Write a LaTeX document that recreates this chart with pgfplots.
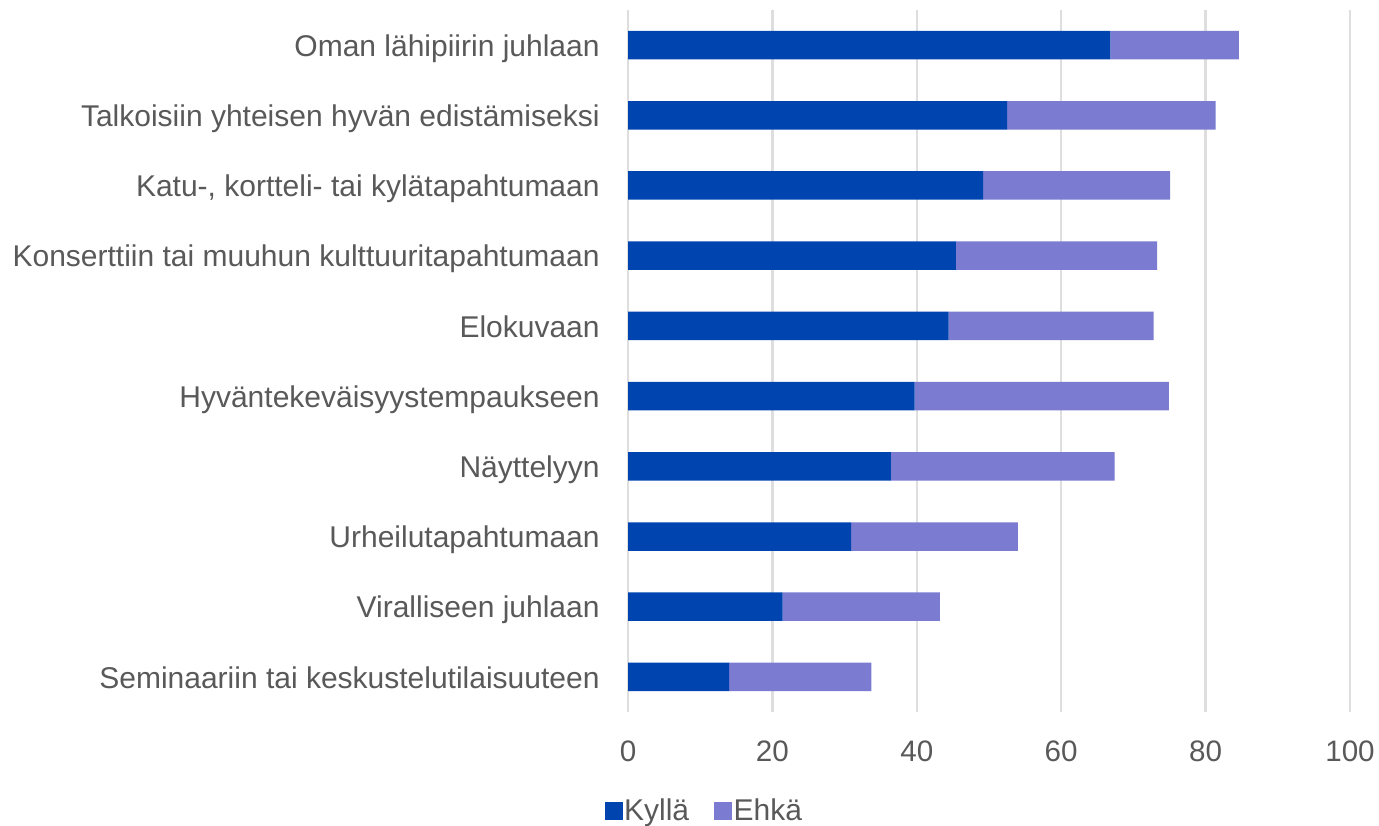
\documentclass[border=0pt]{standalone}
\usepackage{pgfplots}
\pgfplotsset{compat=1.18}
\usepackage{fontspec}
\setmainfont{Liberation Sans}
\definecolor{kylla}{RGB}{0,68,176}
\definecolor{ehka}{RGB}{122,123,209}
\definecolor{txt}{RGB}{89,89,89}
\definecolor{gridc}{RGB}{222,222,222}
\begin{document}
\begin{tikzpicture}
\begin{axis}[
  at={(314pt,56.5pt)}, anchor=south west,
  scale only axis, width=361pt, height=351pt,
  xbar stacked, bar width=14.25pt,
  xmin=0, xmax=100, ymin=-0.5, ymax=9.5,
  axis line style={draw=none},
  tick style={draw=none},
  xmajorgrids, grid style={gridc, line width=1.2pt},
  xtick={0,20,40,60,80,100},
  ytick={0,...,9},
  yticklabels={Seminaariin tai keskustelutilaisuuteen, Viralliseen juhlaan, Urheilutapahtumaan, Näyttelyyn, Hyväntekeväisyystempaukseen, Elokuvaan, Konserttiin tai muuhun kulttuuritapahtumaan, {Katu-, kortteli- tai kylätapahtumaan}, Talkoisiin yhteisen hyvän edistämiseksi, Oman lähipiirin juhlaan},
  major tick length=0pt,
  /pgf/number format/assume math mode=true,
  yticklabel style={font=\fontsize{15pt}{18pt}\selectfont, text=txt, anchor=base east, inner sep=0pt, xshift=-14pt, yshift=-5.6pt},
  xticklabel style={font=\fontsize{14.8pt}{17pt}\selectfont, text=txt, anchor=base, inner sep=0pt, yshift=-24.85pt},
  legend columns=2,
  legend style={draw=none, fill=none, inner sep=0pt, outer sep=0pt, anchor=west, at={(-0.0319,-0.141)},
    font=\fontsize{15pt}{17pt}\selectfont, text=txt,
    nodes={inner sep=0.6pt, anchor=west},
    /tikz/every even column/.append style={column sep=12pt}},
  legend image code/.code={\fill[#1] (0pt,-4.5pt) rectangle (9pt,4.5pt);},
]
\addplot[fill=kylla, draw=none] coordinates {(14.0,0) (21.4,1) (30.9,2) (36.4,3) (39.7,4) (44.4,5) (45.4,6) (49.2,7) (52.5,8) (66.8,9)};
\addplot[fill=ehka, draw=none] coordinates {(19.7,0) (21.8,1) (23.1,2) (31.0,3) (35.2,4) (28.4,5) (27.9,6) (25.9,7) (28.9,8) (17.8,9)};
\legend{Kyllä, Ehkä}
\end{axis}
\pgfresetboundingbox
\path[use as bounding box] (0,0) rectangle (689.5pt,412.5pt);
\end{tikzpicture}
\end{document}
